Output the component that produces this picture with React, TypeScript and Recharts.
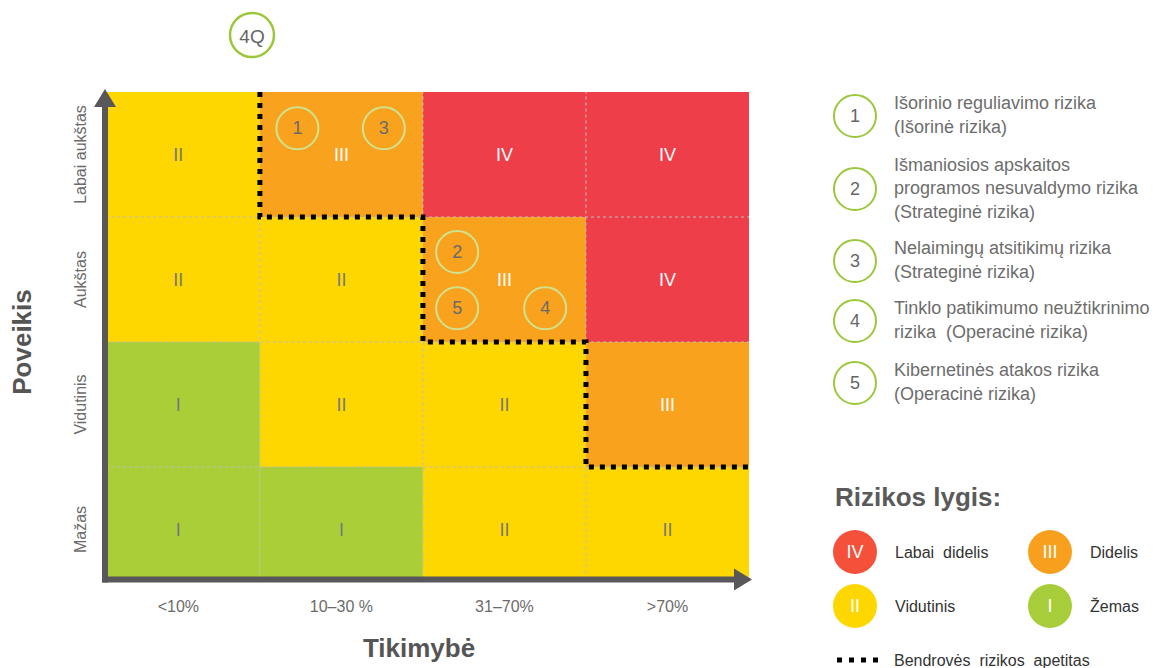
import {
  ComposedChart,
  XAxis,
  YAxis,
  ReferenceArea,
  ReferenceLine,
  Line,
  Scatter,
} from "recharts"

// tikimybė (x) and poveikis (y) categories
const likelihoodLabels = ["<10%", "10–30 %", "31–70%", ">70%"]
const impactLabels = ["Mažas", "Vidutinis", "Aukštas", "Labai aukštas"]

// risk level per cell, rows from bottom (Mažas) to top (Labai aukštas)
const levelRows = [
  ["I", "I", "II", "II"],
  ["I", "II", "II", "III"],
  ["II", "II", "III", "IV"],
  ["II", "III", "IV", "IV"],
]

// risk appetite boundary (step line)
const appetiteX = [1, 1, 2, 2, 3, 3, 4]
const appetiteY = [4, 3, 3, 2, 2, 1, 1]

// numbered risks placed on the matrix
const riskIds = [1, 2, 3, 4, 5]
const riskX = [1.23, 2.21, 1.76, 2.75, 2.21]
const riskY = [3.71, 2.72, 3.71, 2.27, 2.27]

const riskNames = [
  ["Išorinio reguliavimo rizika", "(Išorinė rizika)"],
  ["Išmaniosios apskaitos", "programos nesuvaldymo rizika", "(Strateginė rizika)"],
  ["Nelaimingų atsitikimų rizika", "(Strateginė rizika)"],
  ["Tinklo patikimumo neužtikrinimo", "rizika  (Operacinė rizika)"],
  ["Kibernetinės atakos rizika", "(Operacinė rizika)"],
]

const levelNames = ["Labai  didelis", "Didelis", "Vidutinis", "Žemas"]
const levelKeys = ["IV", "III", "II", "I"]

const cellColor: Record<string, string> = {
  I: "#AACE38",
  II: "#FED700",
  III: "#F8A21E",
  IV: "#EE3E4A",
}
const legendColor: Record<string, string> = {
  I: "#A8CD3A",
  II: "#FED700",
  III: "#F8A01E",
  IV: "#F4503A",
}

const cells = levelRows.flatMap((row, r) => row.map((lvl, c) => ({ r, c, lvl })))
const appetite = appetiteX.map((x, i) => ({ x, y: appetiteY[i] }))
const risks = riskIds.map((id, i) => ({ id, x: riskX[i], y: riskY[i] }))

const AXIS = "#58585A"
const TEXT = "#6b6b6b"

const Arrow = (props: any) => {
  const { x1, y1, x2, y2 } = props
  const len = Math.hypot(x2 - x1, y2 - y1) || 1
  const dx = (x2 - x1) / len
  const dy = (y2 - y1) / len
  const tipX = x2 + dx * 3
  const tipY = y2 + dy * 3
  const bx = x2 - dx * 15
  const by = y2 - dy * 15
  const sx = x1 - dx * 3
  const sy = y1 - dy * 3
  return (
    <g>
      <line x1={sx} y1={sy} x2={bx} y2={by} stroke={AXIS} strokeWidth={6} />
      <polygon
        points={`${tipX},${tipY} ${bx - dy * 11},${by + dx * 11} ${bx + dy * 11},${by - dx * 11}`}
        fill={AXIS}
      />
    </g>
  )
}

const XTick = (props: any) => {
  const { x, payload } = props
  const label = likelihoodLabels[Math.floor(payload.value)]
  return (
    <text x={x} y={606} textAnchor="middle" dominantBaseline="central" fill={TEXT} fontSize={16}>
      {label}
    </text>
  )
}

const YTick = (props: any) => {
  const { y, payload } = props
  const label = impactLabels[Math.floor(payload.value)]
  return (
    <text
      transform={`translate(80, ${y}) rotate(-90)`}
      textAnchor="middle"
      dominantBaseline="central"
      fill={TEXT}
      fontSize={16}
    >
      {label}
    </text>
  )
}

const RiskDot = (props: any) => {
  const { cx, cy, payload } = props
  return (
    <g>
      <circle cx={cx} cy={cy} r={21} fill="none" stroke="#CFE38F" strokeWidth={2} />
      <text x={cx} y={cy} textAnchor="middle" dominantBaseline="central" fill="#6a6a6a" fontSize={18}>
        {payload.id}
      </text>
    </g>
  )
}

const legendY = [116, 189, 261, 321, 383]

export default function App() {
  return (
    <div
      style={{
        position: "absolute",
        left: 0,
        top: 0,
        width: 1161,
        height: 668,
        background: "#fff",
        fontFamily: "'Liberation Sans', Arial, sans-serif",
      }}
    >
      <ComposedChart width={1161} height={668} margin={{ top: 92, right: 412, left: 45, bottom: 38.5 }}>
        <XAxis
          type="number"
          dataKey="x"
          domain={[0.05, 4]}
          allowDataOverflow
          ticks={[0.5, 1.5, 2.5, 3.5]}
          tick={<XTick />}
          axisLine={false}
          tickLine={false}
          height={50}
        />
        <YAxis
          type="number"
          dataKey="y"
          domain={[0.1, 4]}
          allowDataOverflow
          ticks={[0.5, 1.5, 2.5, 3.5]}
          tick={<YTick />}
          axisLine={false}
          tickLine={false}
          width={60}
        />
        {cells.map((cell) => (
          <ReferenceArea
            key={`${cell.r}-${cell.c}`}
            x1={cell.c}
            x2={cell.c + 1}
            y1={cell.r}
            y2={cell.r + 1}
            fill={cellColor[cell.lvl]}
            fillOpacity={1}
            stroke="none"
            ifOverflow="hidden"
            label={{
              value: cell.lvl,
              position: "center",
              fill: cell.lvl === "III" || cell.lvl === "IV" ? "#ffffff" : "#777777",
              fontSize: 18,
            }}
          />
        ))}
        {[1, 2, 3].map((v) => (
          <ReferenceLine key={`gx${v}`} x={v} stroke="#bdbdbd" strokeDasharray="3 3" strokeWidth={1} />
        ))}
        {[1, 2, 3].map((v) => (
          <ReferenceLine key={`gy${v}`} y={v} stroke="#bdbdbd" strokeDasharray="3 3" strokeWidth={1} />
        ))}
        <Line
          data={appetite}
          dataKey="y"
          type="linear"
          stroke="#000"
          strokeWidth={5}
          strokeDasharray="5 6"
          dot={false}
          activeDot={false}
          isAnimationActive={false}
        />
        <Scatter data={risks} dataKey="y" shape={<RiskDot />} isAnimationActive={false} />
        <ReferenceLine
          segment={[{ x: 0.05, y: 0.1 }, { x: 0.05, y: 4 }]}
          ifOverflow="visible"
          shape={<Arrow />}
        />
        <ReferenceLine
          segment={[{ x: 0.05, y: 0.1 }, { x: 4, y: 0.1 }]}
          ifOverflow="visible"
          shape={<Arrow />}
        />
      </ComposedChart>

      <svg
        width={1161}
        height={668}
        style={{ position: "absolute", left: 0, top: 0, pointerEvents: "none" }}
      >
        <circle cx={252} cy={35} r={22} fill="#fff" stroke="#9BC83B" strokeWidth={2.5} />
        <text x={252} y={36} textAnchor="middle" dominantBaseline="central" fill="#666" fontSize={19}>
          4Q
        </text>

        <text
          transform="translate(22, 342) rotate(-90)"
          textAnchor="middle"
          dominantBaseline="central"
          fill="#555"
          fontSize={26}
          fontWeight="bold"
        >
          Poveikis
        </text>
        <text x={419} y={648} textAnchor="middle" dominantBaseline="central" fill="#555" fontSize={26} fontWeight="bold">
          Tikimybė
        </text>

        {riskNames.map((lines, i) => (
          <g key={i}>
            <circle cx={855} cy={legendY[i]} r={21} fill="#fff" stroke="#9BC83B" strokeWidth={2} />
            <text x={855} y={legendY[i]} textAnchor="middle" dominantBaseline="central" fill="#666" fontSize={18}>
              {riskIds[i]}
            </text>
            {lines.map((ln, j) => (
              <text
                key={j}
                x={894}
                y={legendY[i] + (j - (lines.length - 1) / 2) * 23.5 - 1}
                dominantBaseline="central"
                fill="#6d6d6d"
                fontSize={18}
                style={{ whiteSpace: "pre" }}
              >
                {ln}
              </text>
            ))}
          </g>
        ))}

        <text x={835} y={497} dominantBaseline="central" fill="#5a5a5a" fontSize={26} fontWeight="bold">
          Rizikos lygis:
        </text>
        {levelKeys.map((k, i) => {
          const cx = i % 2 === 0 ? 855 : 1050
          const cy = i < 2 ? 552 : 606
          return (
            <g key={k}>
              <circle cx={cx} cy={cy} r={22} fill={legendColor[k]} />
              <text x={cx} y={cy} textAnchor="middle" dominantBaseline="central" fill="#fff" fontSize={18}>
                {k}
              </text>
              <text
                x={cx + 40}
                y={cy}
                dominantBaseline="central"
                fill="#333"
                fontSize={16}
                style={{ whiteSpace: "pre" }}
              >
                {levelNames[i]}
              </text>
            </g>
          )
        })}
        <line x1={837} y1={660} x2={878} y2={660} stroke="#000" strokeWidth={5} strokeDasharray="5 7" />
        <text x={894} y={660} dominantBaseline="central" fill="#333" fontSize={16} style={{ whiteSpace: "pre" }}>
          {"Bendrovės  rizikos  apetitas"}
        </text>
      </svg>
    </div>
  )
}
